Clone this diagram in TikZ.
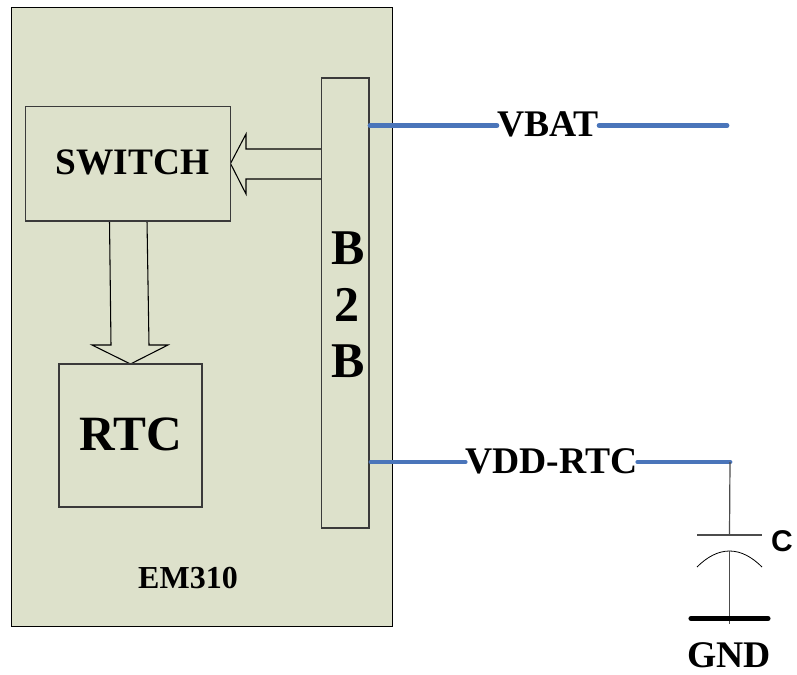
\documentclass[tikz,border=0pt]{standalone}
\usepackage{fontspec}
\setmainfont{Liberation Serif}
\newfontfamily\capfont{Liberation Sans}
\definecolor{boardfill}{HTML}{DDE1CB}
\definecolor{wireblue}{HTML}{4A75BA}
\definecolor{edgegrey}{HTML}{3A3A3A}
\tikzset{
  x=0.75pt,y=-0.75pt,
  block/.style={draw=edgegrey,line width=0.9pt,fill=boardfill},
  bigarrow/.style={draw=black,line width=0.8pt,fill=boardfill,line join=miter},
  plain/.style={font=\bfseries\fontsize{28.2pt}{28.2pt}\selectfont,inner sep=0pt,text=black},
  bus/.style={draw=wireblue,line width=3.6pt,line cap=round},
  thinwire/.style={draw=black!70,line width=0.9pt},
}
\begin{document}
\begin{tikzpicture}
\useasboundingbox (0,0) rectangle (797,675);
% board
\path[block,draw=black] (11.5,7.5) rectangle (392.5,626.5);
% fat arrows
\path[bigarrow] (321.5,149) -- (246,149) -- (246,134) -- (230.5,163.5) -- (246,194) -- (246,179) -- (321.5,179);
\path[bigarrow] (109.5,221) -- (111,345) -- (92,345) -- (130.5,364) -- (168,345) -- (149,345) -- (147,220.5);
% blocks
\path[block] (25.5,106.5) rectangle (230.5,221);
\path[block] (59,364) rectangle (202,507);
\path[block] (321.5,78) rectangle (369,528);
% inner text
\node[plain,font=\bfseries\fontsize{28pt}{28pt}\selectfont] (sw) at (132.5,162.5) {SWITCH};
\node[plain,font=\bfseries\fontsize{37pt}{37pt}\selectfont] (rtc) at (130.5,434) {RTC};
\node[plain,font=\bfseries\fontsize{37.5pt}{37.5pt}\selectfont] (b1) at (348,248) {B};
\node[plain,font=\bfseries\fontsize{37.5pt}{37.5pt}\selectfont] (b2) at (346.5,305) {2};
\node[plain,font=\bfseries\fontsize{37.5pt}{37.5pt}\selectfont] (b3) at (348,361) {B};
\node[plain,font=\bfseries\fontsize{24pt}{24pt}\selectfont] (em) at (188,578) {EM310};
% wires
\coordinate (vbatL) at (370,125.5);
\coordinate (vbatR) at (727,125.5);
\coordinate (vddL) at (371,462);
\coordinate (vddR) at (730,462);
\node[plain] (vbat) at (548,124.5) {VBAT};
\node[plain] (vdd) at (551.5,461.5) {VDD-RTC};
\draw[bus] (vbatL) -- (vbatL -| vbat.west);
\draw[bus] (vbatR -| vbat.east) -- (vbatR);
\draw[bus] (vddL) -- (vddL -| vdd.west);
\draw[bus] (vddR -| vdd.east) -- (vddR);
% capacitor
\coordinate (plateA) at (729.5,535);
\coordinate (plateB) at (729.5,551);
\coordinate (gndbar) at (729.5,624);
\draw[thinwire] (vddR) -- (plateA);
\draw[thinwire] (697,535) -- (762,535);
\draw[draw=black,line width=0.6pt] (697,567) .. controls (707,557) and (718,551) .. (plateB) .. controls (741,551) and (752,557) .. (762,567);
\draw[thinwire] (plateB) -- (gndbar);
\draw[draw=black,line width=3.8pt,line cap=round] (691,618.5) -- (768,618.5);
\node[plain] (gnd) at (729,655) {GND};
\node[font=\capfont\bfseries\fontsize{22.5pt}{22.5pt}\selectfont,inner sep=0pt] (c) at (782,541) {C};
\end{tikzpicture}
\end{document}
